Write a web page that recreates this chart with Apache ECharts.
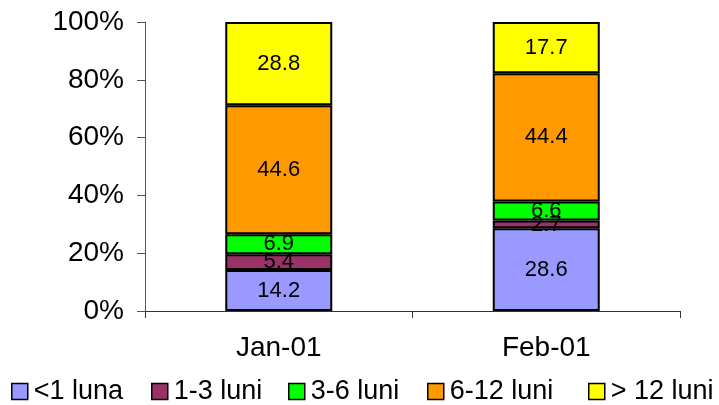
<!DOCTYPE html>
<html>
<head>
<meta charset="utf-8">
<script src="https://cdn.jsdelivr.net/npm/echarts@6/dist/echarts.min.js"></script>
<style>html,body{margin:0;padding:0;background:#fff}#c{width:719px;height:405px}</style>
</head>
<body>
<div id="c"></div>
<script>
var categories = ['Jan-01', 'Feb-01'];
var seriesNames = ['<1 luna', '1-3 luni', '3-6 luni', '6-12 luni', '> 12 luni'];
var lessThan1 = [14.2, 28.6];
var from1to3 = [5.4, 2.7];
var from3to6 = [6.9, 6.6];
var from6to12 = [44.6, 44.4];
var over12 = [28.8, 17.7];
var yTicks = [0, 20, 40, 60, 80, 100];
var colors = ['#9999FF', '#993366', '#00FF00', '#FF9900', '#FFFF00'];

var raw = [lessThan1, from1to3, from3to6, from6to12, over12];
var totals = categories.map(function (c, i) {
  return raw.reduce(function (s, arr) { return s + arr[i]; }, 0);
});
var FONT = '"Liberation Sans", Arial, sans-serif';

var series = raw.map(function (arr, k) {
  return {
    name: seriesNames[k],
    type: 'bar',
    stack: 'total',
    barWidth: '40%',
    itemStyle: { color: colors[k], borderColor: '#000', borderWidth: 2 },
    label: {
      show: true, position: 'inside', color: '#000', fontFamily: FONT, fontSize: 22,
      formatter: function (p) { return arr[p.dataIndex].toFixed(1); }
    },
    data: arr.map(function (v, i) { return v / totals[i] * 100; })
  };
});

var legendLefts = [11, 151, 288, 427, 588];
var legends = seriesNames.map(function (n, k) {
  return {
    data: [n],
    left: legendLefts[k], top: 378, padding: 0,
    itemWidth: 16, itemHeight: 16,
    icon: 'rect',
    itemStyle: { borderColor: '#000', borderWidth: 1.5 },
    textStyle: { fontFamily: FONT, fontSize: 27, color: '#000', padding: [0, 0, 0, 1] }
  };
});

var chart = echarts.init(document.getElementById('c'));
chart.setOption({
  animation: false,
  color: colors,
  grid: { left: 145, right: 39, top: 22, bottom: 94 },
  legend: legends,
  xAxis: {
    type: 'category',
    data: categories,
    axisLine: { lineStyle: { color: '#333', width: 1 } },
    axisTick: { show: true, length: 7, alignWithLabel: false, lineStyle: { color: '#333' } },
    axisLabel: { color: '#000', fontFamily: FONT, fontSize: 28, margin: 23 }
  },
  yAxis: {
    type: 'value',
    min: 0, max: 100, interval: 20,
    splitLine: { show: false },
    axisLine: { show: true, lineStyle: { color: '#555', width: 1 } },
    axisTick: { show: true, length: 8, inside: false, lineStyle: { color: '#555' } },
    axisLabel: {
      color: '#000', fontFamily: FONT, fontSize: 28, margin: 21,
      formatter: function (v) { return yTicks.indexOf(v) >= 0 ? v + '%' : ''; }
    }
  },
  series: series
});
</script>
</body>
</html>
